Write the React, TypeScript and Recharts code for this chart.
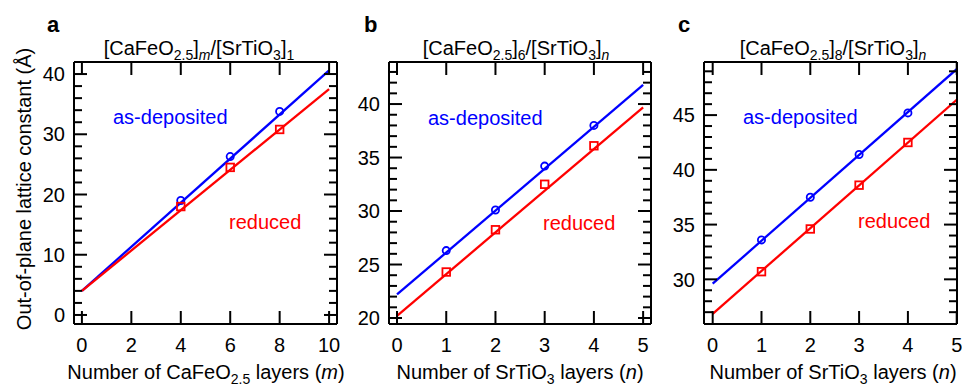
import { ComposedChart, Line, Scatter, XAxis, YAxis } from "recharts";

const BLUE = "#0000ff";
const RED = "#ff0000";
const FONT = '"Liberation Sans", Arial, sans-serif';

// panel a: [CaFeO2.5]m/[SrTiO3]1
const A_X = [4, 6, 8];
const A_DEPOSITED = [19.0, 26.3, 33.8];
const A_REDUCED = [18.0, 24.5, 30.8];
const A_FIT_X = [0, 10];
const A_FIT_DEPOSITED = [4.0, 40.6];
const A_FIT_REDUCED = [4.0, 37.5];

// panel b: [CaFeO2.5]6/[SrTiO3]n
const B_X = [1, 2, 3, 4];
const B_DEPOSITED = [26.3, 30.1, 34.2, 38.0];
const B_REDUCED = [24.3, 28.25, 32.5, 36.1];
const B_FIT_X = [0, 5];
const B_FIT_DEPOSITED = [22.2, 41.8];
const B_FIT_REDUCED = [20.2, 39.7];

// panel c: [CaFeO2.5]8/[SrTiO3]n
const C_X = [1, 2, 3, 4];
const C_DEPOSITED = [33.6, 37.5, 41.4, 45.2];
const C_REDUCED = [30.7, 34.6, 38.6, 42.5];
const C_FIT_X = [0, 5];
const C_FIT_DEPOSITED = [29.6, 49.2];
const C_FIT_REDUCED = [26.85, 46.4];

const A_XTICKS = [0, 2, 4, 6, 8, 10];
const BC_XTICKS = [0, 1, 2, 3, 4, 5];
const A_YMAJOR = [0, 10, 20, 30, 40];
const B_YMAJOR = [20, 25, 30, 35, 40];
const C_YMAJOR = [30, 35, 40, 45];

const range = (a: number, b: number, step: number) => {
  const out: number[] = [];
  for (let v = a; v <= b + 1e-9; v += step) out.push(v);
  return out;
};

const pts = (xs: number[], ys: number[]) => xs.map((x, i) => ({ x, y: ys[i] }));

const tickText = { fontFamily: FONT, fontSize: 20, fill: "#000" };

// axes are 1px wide/high (0 makes recharts skip them), ticks point inwards
const leftTick = (major: number[], labels: boolean) => (p: any) => {
  const isMajor = major.includes(p.payload.value);
  const len = isMajor ? 13 : 8;
  const dir = labels ? 1 : -1;
  return (
    <g>
      <line x1={p.x} y1={p.y} x2={p.x + dir * len} y2={p.y} stroke="#000" strokeWidth={2} />
      {labels && isMajor && (
        <text x={p.x - 9} y={p.y} dy="0.36em" textAnchor="end" {...tickText}>
          {p.payload.value}
        </text>
      )}
    </g>
  );
};

const bottomTick = (labels: boolean) => (p: any) => {
  const dir = labels ? -1 : 1;
  return (
    <g>
      <line x1={p.x} y1={p.y} x2={p.x} y2={p.y + dir * 13} stroke="#000" strokeWidth={2} />
      {labels && (
        <text x={p.x} y={p.y + 28} textAnchor="middle" {...tickText}>
          {p.payload.value}
        </text>
      )}
    </g>
  );
};

const circle = (p: any) => <circle cx={p.cx} cy={p.cy} r={3.6} fill="none" stroke={BLUE} strokeWidth={1.8} />;
const square = (p: any) => (
  <rect x={p.cx - 3.8} y={p.cy - 3.8} width={7.6} height={7.6} fill="none" stroke={RED} strokeWidth={1.8} />
);

function Panel(props: any) {
  const { left, width, margin, xDomain, xTicks, yDomain, yTicks, yMajor, xs, dep, red, fitX, fitDep, fitRed } = props;
  const frame = { stroke: "#000", strokeWidth: 2 };
  const m = { top: margin.top - 1, bottom: margin.bottom - 1, left: margin.left - 1, right: margin.right - 1 };
  return (
    <div style={{ position: "absolute", left, top: 0 }}>
      <ComposedChart width={width} height={386} margin={m}>
        <XAxis xAxisId="b" type="number" dataKey="x" orientation="bottom" domain={xDomain} allowDataOverflow
          ticks={xTicks} interval={0} height={1} tickSize={0} tickMargin={0} tickLine={false} axisLine={frame} tick={bottomTick(true)} />
        <XAxis xAxisId="t" type="number" dataKey="x" orientation="top" domain={xDomain} allowDataOverflow
          ticks={xTicks} interval={0} height={1} tickSize={0} tickMargin={0} tickLine={false} axisLine={frame} tick={bottomTick(false)} />
        <YAxis yAxisId="l" type="number" dataKey="y" orientation="left" domain={yDomain} allowDataOverflow
          ticks={yTicks} interval={0} width={1} tickSize={0} tickMargin={0} tickLine={false} axisLine={frame} tick={leftTick(yMajor, true)} />
        <YAxis yAxisId="r" type="number" dataKey="y" orientation="right" domain={yDomain} allowDataOverflow
          ticks={yTicks} interval={0} width={1} tickSize={0} tickMargin={0} tickLine={false} axisLine={frame} tick={leftTick(yMajor, false)} />
        <Line xAxisId="b" yAxisId="l" data={pts(fitX, fitDep)} dataKey="y" type="linear" stroke={BLUE} strokeWidth={2.3} dot={false} isAnimationActive={false} />
        <Line xAxisId="b" yAxisId="l" data={pts(fitX, fitRed)} dataKey="y" type="linear" stroke={RED} strokeWidth={2.3} dot={false} isAnimationActive={false} />
        <Scatter xAxisId="b" yAxisId="l" data={pts(xs, dep)} dataKey="y" shape={circle} isAnimationActive={false} />
        <Scatter xAxisId="b" yAxisId="l" data={pts(xs, red)} dataKey="y" shape={square} isAnimationActive={false} />
      </ComposedChart>
    </div>
  );
}

const S = ({ children, italic }: any) => (
  <tspan fontSize={14} baselineShift="-5px" fontStyle={italic ? "italic" : "normal"}>{children}</tspan>
);

function Overlay() {
  const t = { fontFamily: FONT, fontSize: 20, fill: "#000" };
  return (
    <svg width={962} height={386} style={{ position: "absolute", left: 0, top: 0, pointerEvents: "none" }}>
      <text x={47} y={32} fontFamily={FONT} fontSize={22} fontWeight="bold">a</text>
      <text x={364} y={32} fontFamily={FONT} fontSize={22} fontWeight="bold">b</text>
      <text x={678} y={32} fontFamily={FONT} fontSize={22} fontWeight="bold">c</text>

      <text x={199} y={55} textAnchor="middle" {...t}>
        [CaFeO<S>2.5</S>]<S italic>m</S>/[SrTiO<S>3</S>]<S>1</S>
      </text>
      <text x={516} y={55} textAnchor="middle" {...t}>
        [CaFeO<S>2.5</S>]<S>6</S>/[SrTiO<S>3</S>]<S italic>n</S>
      </text>
      <text x={833} y={55} textAnchor="middle" {...t}>
        [CaFeO<S>2.5</S>]<S>8</S>/[SrTiO<S>3</S>]<S italic>n</S>
      </text>

      <text x={206} y={379} textAnchor="middle" {...t}>
        Number of CaFeO<S>2.5</S> layers (<tspan fontStyle="italic">m</tspan>)
      </text>
      <text x={520} y={379} textAnchor="middle" {...t}>
        Number of SrTiO<S>3</S> layers (<tspan fontStyle="italic">n</tspan>)
      </text>
      <text x={833} y={379} textAnchor="middle" {...t}>
        Number of SrTiO<S>3</S> layers (<tspan fontStyle="italic">n</tspan>)
      </text>

      <text x={31} y={189} textAnchor="middle" transform="rotate(-90 31 189)" {...t}>
        Out-of-plane lattice constant (Å)
      </text>

      <text x={113} y={124} {...t} fill={BLUE}>as-deposited</text>
      <text x={229} y={229} {...t} fill={RED}>reduced</text>
      <text x={428} y={125} {...t} fill={BLUE}>as-deposited</text>
      <text x={543} y={230} {...t} fill={RED}>reduced</text>
      <text x={743} y={124} {...t} fill={BLUE}>as-deposited</text>
      <text x={858} y={228} {...t} fill={RED}>reduced</text>
    </svg>
  );
}

export default function App() {
  return (
    <div style={{ position: "absolute", left: 0, top: 0, width: 962, height: 386, background: "#fff", overflow: "hidden" }}>
      <Panel left={0} width={342} margin={{ top: 62, bottom: 62, left: 74, right: 5 }}
        xDomain={[-0.32, 10.32]} xTicks={A_XTICKS} yDomain={[-1.5, 42]} yTicks={range(0, 40, 2)} yMajor={A_YMAJOR}
        xs={A_X} dep={A_DEPOSITED} red={A_REDUCED} fitX={A_FIT_X} fitDep={A_FIT_DEPOSITED} fitRed={A_FIT_REDUCED} />
      <Panel left={342} width={312} margin={{ top: 62, bottom: 62, left: 47, right: 3 }}
        xDomain={[-0.163, 5.16]} xTicks={BC_XTICKS} yDomain={[19.44, 43.93]} yTicks={range(20, 43, 1)} yMajor={B_YMAJOR}
        xs={B_X} dep={B_DEPOSITED} red={B_REDUCED} fitX={B_FIT_X} fitDep={B_FIT_DEPOSITED} fitRed={B_FIT_REDUCED} />
      <Panel left={654} width={308} margin={{ top: 62, bottom: 62, left: 50, right: 5 }}
        xDomain={[-0.178, 5.006]} xTicks={BC_XTICKS} yDomain={[25.92, 49.85]} yTicks={range(27, 49, 1)} yMajor={C_YMAJOR}
        xs={C_X} dep={C_DEPOSITED} red={C_REDUCED} fitX={C_FIT_X} fitDep={C_FIT_DEPOSITED} fitRed={C_FIT_REDUCED} />
      <Overlay />
    </div>
  );
}
